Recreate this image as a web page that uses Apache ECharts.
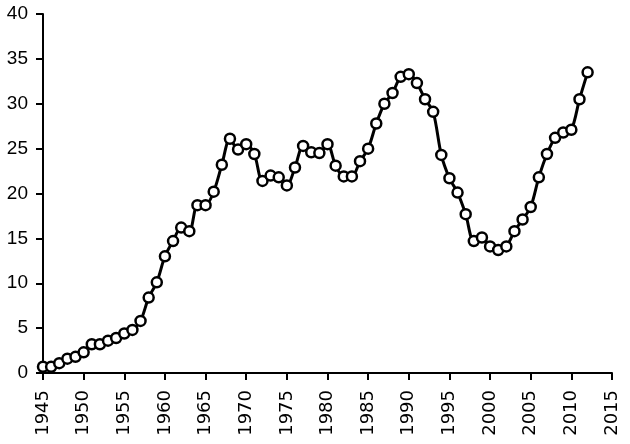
<!DOCTYPE html>
<html>
<head>
<meta charset="utf-8">
<script src="https://cdn.jsdelivr.net/npm/echarts@6/dist/echarts.min.js"></script>
<style>html,body{margin:0;padding:0;background:#fff;}#c{width:630px;height:444px;}</style>
</head>
<body>
<div id="c"></div>
<script>
const years = [1945,1946,1947,1948,1949,1950,1951,1952,1953,1954,1955,1956,1957,1958,1959,1960,1961,1962,1963,1964,1965,1966,1967,1968,1969,1970,1971,1972,1973,1974,1975,1976,1977,1978,1979,1980,1981,1982,1983,1984,1985,1986,1987,1988,1989,1990,1991,1992,1993,1994,1995,1996,1997,1998,1999,2000,2001,2002,2003,2004,2005,2006,2007,2008,2009,2010,2011,2012];
const values = [0.7,0.7,1.1,1.6,1.8,2.3,3.2,3.2,3.6,3.9,4.4,4.8,5.8,8.4,10.1,13.0,14.7,16.2,15.8,18.7,18.7,20.2,23.2,26.1,24.9,25.5,24.4,21.4,22.0,21.8,20.9,22.9,25.3,24.6,24.5,25.5,23.1,21.9,21.9,23.6,25.0,27.8,30.0,31.2,33.0,33.3,32.3,30.5,29.1,24.3,21.7,20.1,17.7,14.7,15.1,14.1,13.7,14.1,15.8,17.1,18.5,21.8,24.4,26.2,26.8,27.1,30.5,33.5];
const xTicks = [1945,1950,1955,1960,1965,1970,1975,1980,1985,1990,1995,2000,2005,2010,2015];
const yTicks = [0,5,10,15,20,25,30,35,40];

const chart = echarts.init(document.getElementById('c'), null, {renderer:'canvas'});
chart.setOption({
  animation: false,
  backgroundColor: '#fff',
  grid: {left: 43, right: 18, top: 14, bottom: 71, containLabel: false},
  xAxis: {
    type: 'value', min: 1945, max: 2015, interval: 5,
    axisLine: {show: true, lineStyle: {color: '#000', width: 2}},
    axisTick: {show: true, length: 7, lineStyle: {color: '#000', width: 2}},
    splitLine: {show: false},
    axisLabel: {rotate: 90, color: '#000', fontFamily: 'DejaVu Sans', fontSize: 18, margin: 17,
      formatter: v => xTicks.includes(v) ? String(v) : ''}
  },
  yAxis: {
    type: 'value', min: 0, max: 40, interval: 5,
    axisLine: {show: true, lineStyle: {color: '#000', width: 2}},
    axisTick: {show: true, length: 7, lineStyle: {color: '#000', width: 2}},
    splitLine: {show: false},
    axisLabel: {color: '#000', fontFamily: 'Liberation Sans', fontSize: 19, margin: 15,
      formatter: v => yTicks.includes(v) ? String(v) : ''}
  },
  series: [{
    type: 'line',
    data: years.map((y, i) => [y, values[i]]),
    smooth: 0.3,
    symbol: 'circle', symbolSize: 10,
    lineStyle: {color: '#000', width: 3},
    itemStyle: {color: '#fff', borderColor: '#000', borderWidth: 2.5}
  }]
});
</script>
</body>
</html>
